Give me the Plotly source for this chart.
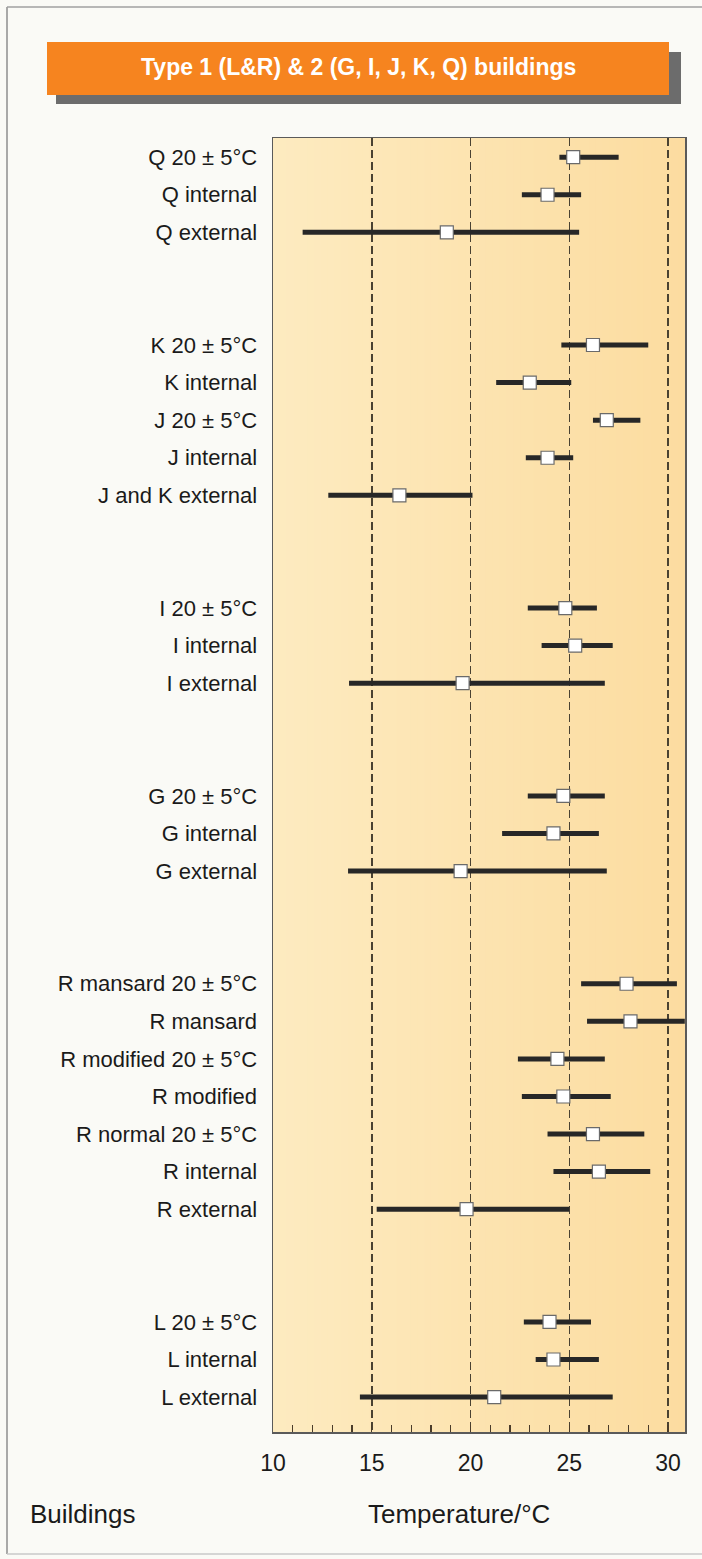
import plotly.graph_objects as go

# ---------------- data ----------------
groups = [
    ["Q 20 ± 5°C", "Q internal", "Q external"],
    ["K 20 ± 5°C", "K internal", "J 20 ± 5°C", "J internal", "J and K external"],
    ["I 20 ± 5°C", "I internal", "I external"],
    ["G 20 ± 5°C", "G internal", "G external"],
    ["R mansard 20 ± 5°C", "R mansard", "R modified 20 ± 5°C", "R modified",
     "R normal 20 ± 5°C", "R internal", "R external"],
    ["L 20 ± 5°C", "L internal", "L external"],
]
means = [25.2, 23.9, 18.8,
         26.2, 23.0, 26.9, 23.9, 16.4,
         24.8, 25.3, 19.6,
         24.7, 24.2, 19.5,
         27.9, 28.1, 24.4, 24.7, 26.2, 26.5, 19.8,
         24.0, 24.2, 21.2]
lows = [24.5, 22.6, 11.5,
        24.6, 21.3, 26.2, 22.8, 12.8,
        22.9, 23.6, 13.85,
        22.9, 21.6, 13.8,
        25.6, 25.9, 22.4, 22.6, 23.9, 24.2, 15.25,
        22.7, 23.3, 14.4]
highs = [27.5, 25.6, 25.5,
         29.0, 25.1, 28.6, 25.2, 20.1,
         26.4, 27.2, 26.8,
         26.8, 26.5, 26.9,
         30.45, 30.85, 26.8, 27.1, 28.8, 29.1, 25.0,
         26.1, 26.5, 27.2]
x_ticks = [10, 15, 20, 25, 30]
x_tick_labels = ["10", "15", "20", "25", "30"]
title_text = "Type 1 (L&R) & 2 (G, I, J, K, Q) buildings"
x_title = "Temperature/°C"
y_title = "Buildings"

# ---------------- layout helpers ----------------
W, H = 702, 1559
PL, PR, PT, PB = 273, 685, 138, 1432   # plot area in pixels
GAP = 3                                 # row slots between groups

labels, pos = [], []
p = 0
for gi, g in enumerate(groups):
    if gi > 0:
        p += GAP - 1
    for lab in g:
        labels.append(lab)
        pos.append(p)
        p += 1


def px(x):
    return (x - PL) / (PR - PL)


def py(y):
    return (PB - y) / (PB - PT)


FONT = "Liberation Sans, Arial, Helvetica, sans-serif"

fig = go.Figure()
fig.add_trace(go.Scatter(
    x=means, y=pos, mode="markers",
    marker=dict(symbol="square", size=13, color="#ffffff",
                line=dict(color="#6a6a6a", width=1.2)),
    error_x=dict(type="data", symmetric=False,
                 array=[h - m for h, m in zip(highs, means)],
                 arrayminus=[m - l for m, l in zip(means, lows)],
                 color="#272727", thickness=5, width=0),
    showlegend=False, hoverinfo="skip", cliponaxis=True,
))

shapes = []
# background gradient of the plot area
N = 60
c0 = (253, 235, 192)
c1 = (252, 220, 160)
for i in range(N):
    t = i / (N - 1)
    col = tuple(round(a + (b - a) * t) for a, b in zip(c0, c1))
    shapes.append(dict(type="rect", xref="paper", yref="paper",
                       x0=i / N, x1=(i + 1) / N + 0.002, y0=0, y1=1,
                       fillcolor="rgb(%d,%d,%d)" % col, line=dict(width=0),
                       layer="below"))
# page frame lines
shapes.append(dict(type="line", xref="paper", yref="paper",
                   x0=px(7), x1=px(7), y0=py(7), y1=py(1554),
                   line=dict(color="#8e8e8e", width=1.5), layer="below"))
shapes.append(dict(type="line", xref="paper", yref="paper",
                   x0=px(7), x1=px(702), y0=py(7), y1=py(7),
                   line=dict(color="#a0a0a0", width=1.5), layer="below"))
shapes.append(dict(type="line", xref="paper", yref="paper",
                   x0=px(7), x1=px(702), y0=py(1554), y1=py(1554),
                   line=dict(color="#c8c8c8", width=1.5), layer="below"))
# title banner shadow + banner
shapes.append(dict(type="rect", xref="paper", yref="paper",
                   x0=px(56), x1=px(681), y0=py(104), y1=py(52),
                   fillcolor="#6c6c6c", line=dict(width=0), layer="below"))
shapes.append(dict(type="rect", xref="paper", yref="paper",
                   x0=px(47), x1=px(669), y0=py(95), y1=py(42),
                   fillcolor="#f6841f", line=dict(width=0), layer="below"))

annotations = [
    dict(text=title_text, xref="paper", yref="paper", x=px(358), y=py(67),
         xanchor="center", yanchor="middle", showarrow=False,
         font=dict(family=FONT, size=23, color="#ffffff", weight="bold")),
    dict(text=y_title, xref="paper", yref="paper", x=px(28), y=py(1514),
         xanchor="left", yanchor="middle", showarrow=False,
         font=dict(family=FONT, size=26, color="#1a1a1a")),
    dict(text=x_title, xref="paper", yref="paper", x=px(459), y=py(1514),
         xanchor="center", yanchor="middle", showarrow=False,
         font=dict(family=FONT, size=26, color="#1a1a1a")),
]

fig.update_layout(
    width=W, height=H,
    margin=dict(l=PL, r=W - PR, t=PT, b=H - PB, pad=0),
    paper_bgcolor="#fafaf6",
    plot_bgcolor="rgba(0,0,0,0)",
    shapes=shapes,
    annotations=annotations,
    font=dict(family=FONT, color="#1a1a1a"),
)
fig.update_xaxes(
    range=[10, 30.86], tickvals=x_ticks, ticktext=x_tick_labels,
    showgrid=True, gridcolor="#4a4232", gridwidth=1.5, griddash="8px,4px",
    zeroline=False, showline=True, mirror=True, linecolor="#5a5a5a", linewidth=1.5,
    ticks="inside", ticklen=7, tickwidth=1.2, tickcolor="#4a3c2a",
    minor=dict(dtick=1, tick0=10, ticks="inside", ticklen=7, tickwidth=1.2,
               tickcolor="#4a3c2a", showgrid=False),
    tickfont=dict(family=FONT, size=23, color="#1a1a1a"),
    ticklabelstandoff=10,
)
fig.update_yaxes(
    range=[33.93, -0.51], tickvals=pos, ticktext=labels,
    showgrid=False, zeroline=False, showline=True, mirror=True,
    linecolor="#5a5a5a", linewidth=1.5, ticks="",
    tickfont=dict(family=FONT, size=22, color="#1a1a1a"),
    ticklabelstandoff=10,
)

fig.write_html(
    "out.html",
    config={"displayModeBar": False, "staticPlot": True},
    post_script=(
        "document.body.style.margin='0';"
        "document.body.style.background='#fafaf6';"
        "document.documentElement.style.overflow='hidden';"
    ),
)
